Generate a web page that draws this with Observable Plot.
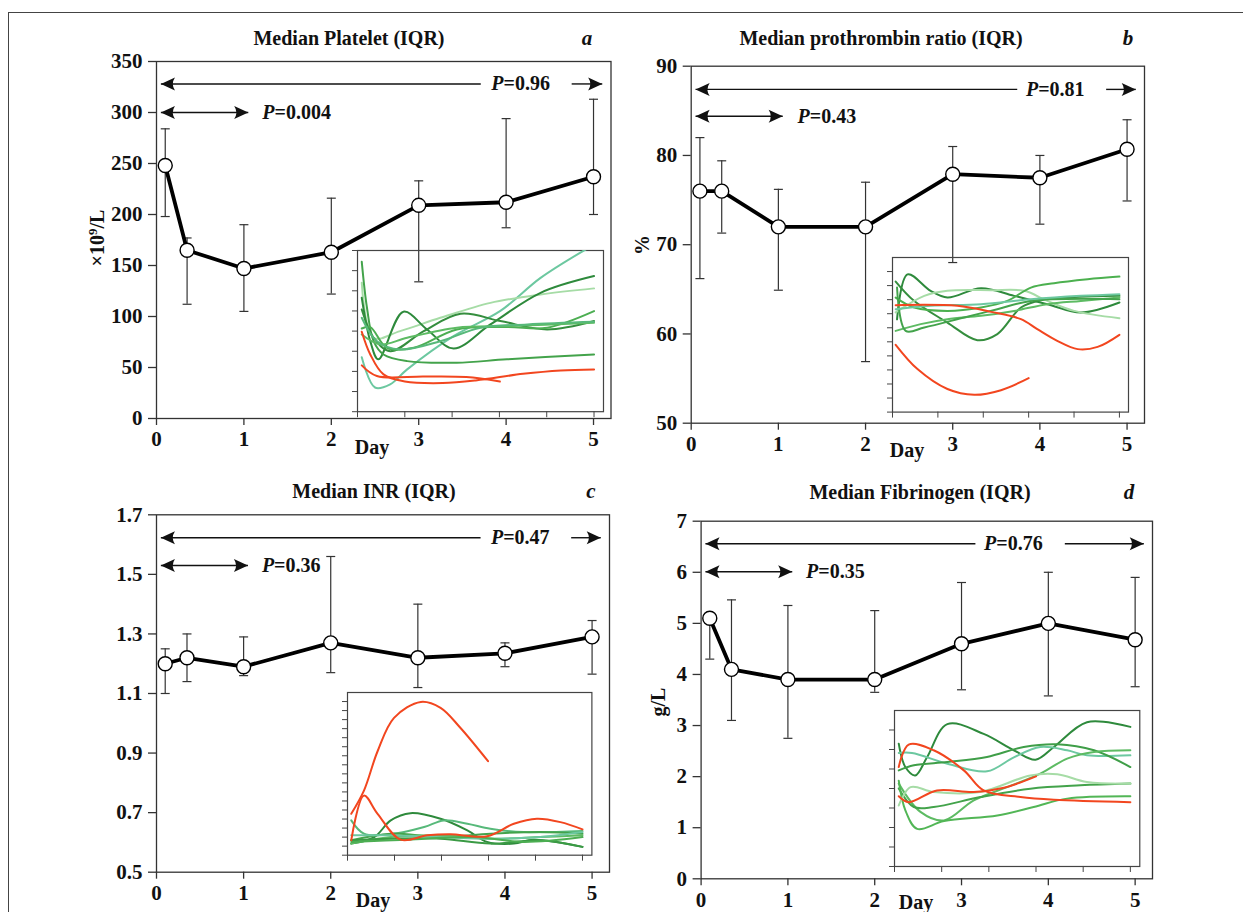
<!DOCTYPE html>
<html><head><meta charset="utf-8">
<script src="https://cdn.jsdelivr.net/npm/d3@7"></script>
<script src="https://cdn.jsdelivr.net/npm/@observablehq/plot@0.6"></script>
<style>
html,body{margin:0;padding:0;background:#fff;}
body{width:1243px;height:912px;overflow:hidden;position:relative;font-family:"Liberation Serif",serif;color:#111;}
#border{position:absolute;left:8px;top:12px;width:1400px;height:1000px;border:1.5px solid #444;box-sizing:border-box;}
.lbl{position:absolute;font-weight:bold;font-size:20px;transform:translate(-50%,-50%);white-space:nowrap;line-height:1;}
.tag{font-style:italic;font-size:21px;}
.rot{transform:translate(-50%,-50%) rotate(-90deg);font-size:20px;}
svg{position:absolute;}
</style></head><body>
<div id="border"></div>
<script>
// ---------- main series ----------
const days = [0.1, 0.35, 1, 2, 3, 4, 5];
const dayTicks = [0, 1, 2, 3, 4, 5];

const plateletMedian = [248, 165, 147, 163, 209, 212, 237];
const plateletQ1     = [198, 112, 105, 122, 134, 187, 200];
const plateletQ3     = [284, 177, 190, 216, 233, 294, 313];

const ptMedian = [76.0, 76.0, 72.0, 72.0, 77.9, 77.5, 80.7];
const ptQ1     = [66.2, 71.3, 64.9, 56.9, 68.0, 72.3, 74.9];
const ptQ3     = [82.0, 79.4, 76.2, 77.0, 81.0, 80.0, 84.0];

const inrMedian = [1.20, 1.22, 1.19, 1.27, 1.22, 1.235, 1.29];
const inrQ1     = [1.10, 1.14, 1.16, 1.17, 1.12, 1.19, 1.165];
const inrQ3     = [1.25, 1.30, 1.29, 1.56, 1.40, 1.27, 1.345];

const fibMedian = [5.10, 4.10, 3.90, 3.90, 4.60, 5.00, 4.68];
const fibQ1     = [4.30, 3.10, 2.75, 3.65, 3.70, 3.58, 3.76];
const fibQ3     = [5.15, 5.46, 5.35, 5.25, 5.80, 6.00, 5.90];

// y axes
const plateletTicks = [0, 50, 100, 150, 200, 250, 300, 350];
const ptTicks = [50, 60, 70, 80, 90];
const inrTicks = [0.5, 0.7, 0.9, 1.1, 1.3, 1.5, 1.7];
const fibTicks = [0, 1, 2, 3, 4, 5, 6, 7];

// P-value annotations (panels a, b, c, d)
const pShortText = ["0.004", "0.43", "0.36", "0.35"];
const pLongText  = ["0.96", "0.81", "0.47", "0.76"];
const shortArrowLevel = [300, 84.4, 1.53, 6.01];
const longArrowLevel  = [328, 87.4, 1.623, 6.56];
const arrowStartDay = [0.05, 0.05, 0.05, 0.05];
const shortArrowEndDay = [1.05, 1.05, 1.05, 1.05];
const longArrowEndDay = [5.1, 5.1, 5.1, 5.1];
const longGapStart = [3.71, 3.74, 3.72, 3.16];
const longGapEnd   = [4.75, 4.76, 4.76, 4.19];
const shortLabelDay = [1.35, 1.36, 1.35, 1.35];
const longLabelDay  = [3.97, 3.98, 3.98, 3.40];

// ---------- inset curves: [day, value] ----------
const plateletInset = [
 [[0.09,2.7],[0.37,1.2],[0.69,1.36],[1.05,2.1],[2.03,3.75],[3.02,5.0],[3.87,6.64],[4.86,8.1]],
 [[0.09,6.4],[0.34,3.67],[0.9,4.0],[1.75,4.66],[2.81,5.4],[3.87,5.82],[5.0,6.12]],
 [[0.09,5.65],[0.27,3.5],[0.44,2.6],[0.97,4.96],[1.47,4.08],[2.03,3.14],[2.81,4.33],[3.87,5.9],[5.0,6.73]],
 [[0.09,7.44],[0.2,5.16],[0.34,3.5],[0.55,2.84],[1.05,2.51],[2.1,2.43],[3.16,2.6],[5.0,2.84]],
 [[0.09,5.07],[0.34,3.67],[0.69,3.0],[1.4,4.0],[2.18,4.86],[3.02,4.5],[4.01,4.08],[5.0,4.5]],
 [[0.09,4.13],[0.27,4.2],[0.62,3.17],[1.19,3.17],[2.1,4.08],[3.16,4.2],[4.01,4.17],[5.0,4.99]],
 [[0.09,3.83],[0.48,3.34],[1.05,3.67],[2.1,4.17],[3.16,4.25],[5.0,4.41]],
 [[0.09,4.66],[0.41,3.5],[0.9,3.09],[1.75,3.5],[2.6,4.17],[3.59,4.33],[5.0,4.46]],
 [[0.09,3.97],[0.27,2.84],[0.55,1.85],[1.0,1.5],[1.8,1.42],[2.5,1.55],[3.5,1.88],[4.3,2.05],[5.0,2.1]],
 [[0.09,2.3],[0.41,1.77],[1.4,1.75],[2.3,1.72],[3.01,1.5]]
];
const ptInset = [
 [[0.1,6.6],[0.33,9.8],[0.84,8.63],[1.21,8.15],[1.95,8.82],[2.68,8.27],[3.41,7.68],[4.15,7.09],[5.0,7.8]],
 [[0.07,9.29],[0.48,7.9],[1.21,6.37],[1.87,5.12],[2.31,5.55],[2.83,7.44],[3.27,7.96],[5.0,8.27]],
 [[0.07,7.09],[0.7,8.27],[1.21,8.63],[2.17,8.67],[2.9,8.63],[3.41,7.91],[4.0,7.2],[5.0,6.68]],
 [[0.07,8.15],[0.48,7.44],[1.21,7.2],[1.95,7.44],[2.53,7.91],[3.05,8.86],[3.56,9.17],[4.3,9.45],[5.0,9.64]],
 [[0.07,5.78],[0.62,6.26],[1.21,6.61],[1.95,6.85],[2.68,7.2],[3.41,7.68],[4.15,7.91],[5.0,8.15]],
 [[0.1,8.86],[0.29,5.78],[0.7,6.02],[1.58,6.73],[2.31,7.32],[3.05,7.91],[5.0,8.03]],
 [[0.07,7.32],[0.84,7.56],[1.95,7.68],[3.05,8.03],[4.15,8.27],[5.0,8.39]],
 [[0.07,7.61],[1.43,7.56],[2.17,7.13],[2.83,6.61],[3.19,5.9],[3.63,5.07],[4.08,4.48],[4.52,4.64],[5.0,5.5]],
 [[0.07,4.79],[0.55,3.06],[1.21,1.64],[1.8,1.23],[2.39,1.56],[3.0,2.42]]
];
const inrInset = [
 [[0.08,1.28],[0.57,2.0],[0.92,3.85],[1.34,4.65],[1.98,4.03],[2.55,2.75],[2.97,1.47],[3.54,1.28],[3.96,1.72],[5.0,0.92]],
 [[0.08,3.85],[0.35,2.38],[0.92,2.31],[1.63,3.11],[2.05,3.85],[2.55,3.48],[3.04,2.93],[3.75,2.56],[5.0,2.67]],
 [[0.08,1.65],[0.92,2.38],[1.98,2.0],[3.04,2.38],[4.1,2.56],[5.0,2.38]],
 [[0.08,1.28],[0.92,2.0],[1.98,2.2],[3.04,1.83],[4.1,2.0],[5.0,2.2]],
 [[0.08,1.65],[0.92,1.83],[1.98,1.83],[3.04,1.28],[4.1,1.65],[5.0,0.92]],
 [[0.08,2.2],[0.92,2.2],[1.98,2.0],[3.04,1.83],[4.1,2.0],[5.0,2.56]],
 [[0.08,1.46],[1.27,1.72],[2.69,2.0],[3.75,1.46],[5.0,2.0]],
 [[0.08,4.58],[0.35,7.14],[0.64,11.5],[0.99,15.2],[1.56,16.96],[1.98,16.3],[2.4,14.1],[2.99,10.4]],
 [[0.08,1.65],[0.35,6.59],[0.64,4.58],[1.13,1.72],[1.7,2.2],[2.19,2.31],[2.97,2.09],[3.54,3.48],[4.03,4.03],[4.53,3.66],[5.0,2.86]]
];
const fibInset = [
 [[0.09,6.3],[0.23,5.1],[0.44,4.67],[0.69,5.6],[1.12,7.3],[1.89,6.8],[2.53,5.96],[2.99,5.48],[3.38,6.13],[4.08,7.4],[5.0,7.16]],
 [[0.09,5.82],[0.37,5.82],[1.12,5.27],[1.96,4.88],[2.53,5.6],[3.09,6.13],[3.66,5.96],[4.08,5.7],[5.0,5.7]],
 [[0.09,4.93],[0.41,5.19],[1.12,5.36],[1.96,5.62],[2.74,6.13],[3.45,6.27],[4.23,5.96],[5.0,5.1]],
 [[0.09,4.25],[0.55,2.8],[1.05,2.36],[1.68,3.39],[2.39,4.07],[3.09,4.76],[3.66,5.53],[4.23,5.87],[5.0,5.96]],
 [[0.09,4.0],[0.41,3.05],[0.83,3.05],[1.82,3.56],[2.88,3.99],[3.94,4.16],[5.0,4.25]],
 [[0.09,4.4],[0.23,2.88],[0.48,1.93],[1.05,2.33],[2.18,2.62],[2.95,3.05],[3.66,3.48],[5.0,3.6]],
 [[0.09,3.13],[0.34,4.07],[0.83,3.82],[1.82,3.82],[2.88,4.67],[3.45,4.73],[4.08,4.33],[5.0,4.25]],
 [[0.09,5.1],[0.3,6.25],[0.83,5.96],[1.47,4.93],[1.89,3.9],[2.67,3.56],[3.38,3.42],[5.0,3.3]],
 [[0.09,3.6],[0.3,3.3],[0.9,3.9],[1.68,3.82],[2.32,4.04],[3.0,4.62]]
];
const insetTicksA = [0,1,2,3,4,5,6,7,8];
const insetTicksB = [0,1,2,3,4,5,6,7,8,9,10];
const insetTicksC = [0,1,2,3,4,5,6,7,8,9,10,11,12,13,14,15,16,17];
const insetTicksD = [0,1,2,3,4,5,6,7];

// ---------- styles ----------
const DG = "#2e8a3c", GR = "#43a34b", MG = "#5dbb63", MT = "#6cc8a0", PL = "#a6dca6", MT2 = "#57b97a", RD = "#f2461f";
const colorsA = [MT, PL, DG, GR, "#358e3e", "#4cae52", MG, MT2, RD, RD];
const colorsB = [DG, "#358e3e", PL, "#4cb04f", MG, GR, MT, RD, RD];
const colorsC = [DG, MT2, GR, MG, "#3a9a44", MT, "#4cae52", RD, RD];
const colorsD = [DG, MT, "#3f9e48", MG, GR, "#52b656", PL, RD, RD];

const capSymbol = {draw(ctx, size){ const r = Math.sqrt(size/Math.PI); ctx.moveTo(-r,0); ctx.lineTo(r,0); }};
const headRight = {draw(ctx, size){ const s = Math.sqrt(size/Math.PI)/6;
  ctx.moveTo(0,0); ctx.lineTo(-13*s,-6*s); ctx.quadraticCurveTo(-9*s,0,-13*s,6*s); ctx.closePath(); }};
const headLeft = {draw(ctx, size){ const s = Math.sqrt(size/Math.PI)/6;
  ctx.moveTo(0,0); ctx.lineTo(13*s,-6*s); ctx.quadraticCurveTo(9*s,0,13*s,6*s); ctx.closePath(); }};

const baseStyle = {fontFamily: "'Liberation Serif', serif", fontSize: "20px", fontWeight: "bold",
  color: "#111", background: "transparent", overflow: "visible"};

function mainPlot(k, med, q1, q3, yDomain, yTicks, fmt, g) {
  const rows = days.map((d, i) => ({day: d, med: med[i], q1: q1[i], q3: q3[i]}));
  const sY = shortArrowLevel[k], lY = longArrowLevel[k];
  const shafts = [
    {x1: arrowStartDay[k], x2: shortArrowEndDay[k], y: sY},
    {x1: arrowStartDay[k], x2: longGapStart[k], y: lY},
    {x1: longGapEnd[k], x2: longArrowEndDay[k], y: lY}
  ];
  const leftHeads = [{x: arrowStartDay[k], y: sY}, {x: arrowStartDay[k], y: lY}];
  const rightHeads = [{x: shortArrowEndDay[k], y: sY}, {x: longArrowEndDay[k], y: lY}];
  const labels = [
    {x: shortLabelDay[k], y: sY, t: "=" + pShortText[k]},
    {x: longLabelDay[k], y: lY, t: "=" + pLongText[k]}
  ];
  const svg = Plot.plot({
    width: g.w, height: g.h,
    marginLeft: g.ml, marginRight: g.mr, marginTop: g.mt, marginBottom: g.mb,
    x: {domain: [0, 5.2]},
    y: {domain: yDomain},
    style: baseStyle,
    marks: [
      Plot.frame({stroke: "#333", strokeWidth: 1.3}),
      Plot.axisY({ticks: yTicks, tickSize: 8, tickPadding: 6, tickFormat: fmt, label: null, stroke: "#333", strokeWidth: 1.3, fontSize: 21}),
      Plot.axisX({ticks: dayTicks, tickSize: 7, tickPadding: 6, tickFormat: d => String(d), label: null, stroke: "#333", strokeWidth: 1.3, fontSize: 21}),
      Plot.link(shafts, {x1: "x1", x2: "x2", y1: "y", y2: "y", stroke: "#111", strokeWidth: 1.4}),
      Plot.dot(leftHeads, {x: "x", y: "y", symbol: headLeft, r: 6.5, fill: "#111", stroke: "none"}),
      Plot.dot(rightHeads, {x: "x", y: "y", symbol: headRight, r: 6.5, fill: "#111", stroke: "none"}),
      Plot.text(labels, {x: "x", y: "y", text: () => "P", textAnchor: "end", fontStyle: "italic", fill: "#111"}),
      Plot.text(labels, {x: "x", y: "y", text: "t", textAnchor: "start", fill: "#111"}),
      Plot.ruleX(rows, {x: "day", y1: "q1", y2: "q3", stroke: "#333", strokeWidth: 1.2}),
      Plot.dot(rows, {x: "day", y: "q1", symbol: capSymbol, r: 4.5, fill: "none", stroke: "#333", strokeWidth: 1.2}),
      Plot.dot(rows, {x: "day", y: "q3", symbol: capSymbol, r: 4.5, fill: "none", stroke: "#333", strokeWidth: 1.2}),
      Plot.line(rows, {x: "day", y: "med", stroke: "#000", strokeWidth: 3.8}),
      Plot.dot(rows, {x: "day", y: "med", r: 7, fill: "white", stroke: "#000", strokeWidth: 1.4})
    ]
  });
  svg.style.left = g.left + "px";
  svg.style.top = g.top + "px";
  document.body.appendChild(svg);
}

function insetPlot(lines, colors, yMax, yTicks, f) {
  const svg = Plot.plot({
    width: f.R - f.L + 12, height: f.B - f.T + 12,
    marginLeft: 10, marginRight: 2, marginTop: 2, marginBottom: 10,
    x: {domain: [0, 5.2]},
    y: {domain: [0, yMax]},
    style: baseStyle,
    marks: [
      Plot.frame({stroke: "#444", strokeWidth: 1.2}),
      Plot.axisY({ticks: yTicks, tickSize: 5, tickFormat: () => "", label: null, stroke: "#444"}),
      Plot.axisX({ticks: dayTicks, tickSize: 6, tickFormat: () => "", label: null, stroke: "#444"}),
      ...lines.map((pts, i) => Plot.line(pts, {x: d => d[0], y: d => d[1], stroke: colors[i],
        strokeWidth: 2, curve: "catmull-rom", clip: true}))
    ]
  });
  svg.style.left = (f.L - 10) + "px";
  svg.style.top = (f.T - 2) + "px";
  document.body.appendChild(svg);
}

const f0 = d => String(d), f1 = d => d.toFixed(1);
mainPlot(0, plateletMedian, plateletQ1, plateletQ3, [0, 350], plateletTicks, f0,
  {left: 0, top: 0, w: 620, h: 460, ml: 156, mr: 9.5, mt: 61, mb: 42});
mainPlot(1, ptMedian, ptQ1, ptQ3, [50, 90], ptTicks, f0,
  {left: 620, top: 0, w: 623, h: 460, ml: 70.7, mr: 99, mt: 65.7, mb: 37.3});
mainPlot(2, inrMedian, inrQ1, inrQ3, [0.5, 1.7], inrTicks, f1,
  {left: 0, top: 455, w: 620, h: 457, ml: 156, mr: 11, mt: 59.3, mb: 40.3});
mainPlot(3, fibMedian, fibQ1, fibQ3, [0, 7], fibTicks, f0,
  {left: 620, top: 455, w: 623, h: 457, ml: 80.6, mr: 91, mt: 65.7, mb: 33.7});

insetPlot(plateletInset, colorsA, 8, insetTicksA, {L: 357.3, R: 603.3, T: 249.5, B: 410.7});
insetPlot(ptInset, colorsB, 11, insetTicksB, {L: 891.7, R: 1127.7, T: 256.7, B: 411.3});
insetPlot(inrInset, colorsC, 18, insetTicksC, {L: 347.3, R: 591.7, T: 692.3, B: 855});
insetPlot(fibInset, colorsD, 8, insetTicksD, {L: 894, R: 1139.3, T: 710, B: 866});

// ---------- text labels ----------
const titles = ["Median Platelet (IQR)", "Median prothrombin ratio (IQR)", "Median INR (IQR)", "Median Fibrinogen (IQR)"];
const titlePos = [[349, 38], [881, 38], [374, 491], [920, 492]];
const tags = ["a", "b", "c", "d"];
const tagPos = [[587, 38], [1128, 38], [591, 491], [1129, 492]];
const dayPos = [[372, 447], [907, 450], [373, 900], [916, 902]];
const yLabels = ["×10<sup style='font-size:13px;vertical-align:7px'>9</sup>/L", "%", "g/L"];
const yLabelPos = [[96, 238], [642, 245], [658, 702]];

function addLabel(html, pos, cls) {
  const d = document.createElement("div");
  d.className = "lbl " + (cls || "");
  d.innerHTML = html;
  d.style.left = pos[0] + "px";
  d.style.top = pos[1] + "px";
  document.body.appendChild(d);
}
titles.forEach((t, i) => addLabel(t, titlePos[i]));
tags.forEach((t, i) => addLabel(t, tagPos[i], "tag"));
dayPos.forEach(p => addLabel("Day", p));
yLabels.forEach((t, i) => addLabel(t, yLabelPos[i], "rot"));
</script>
</body></html>
